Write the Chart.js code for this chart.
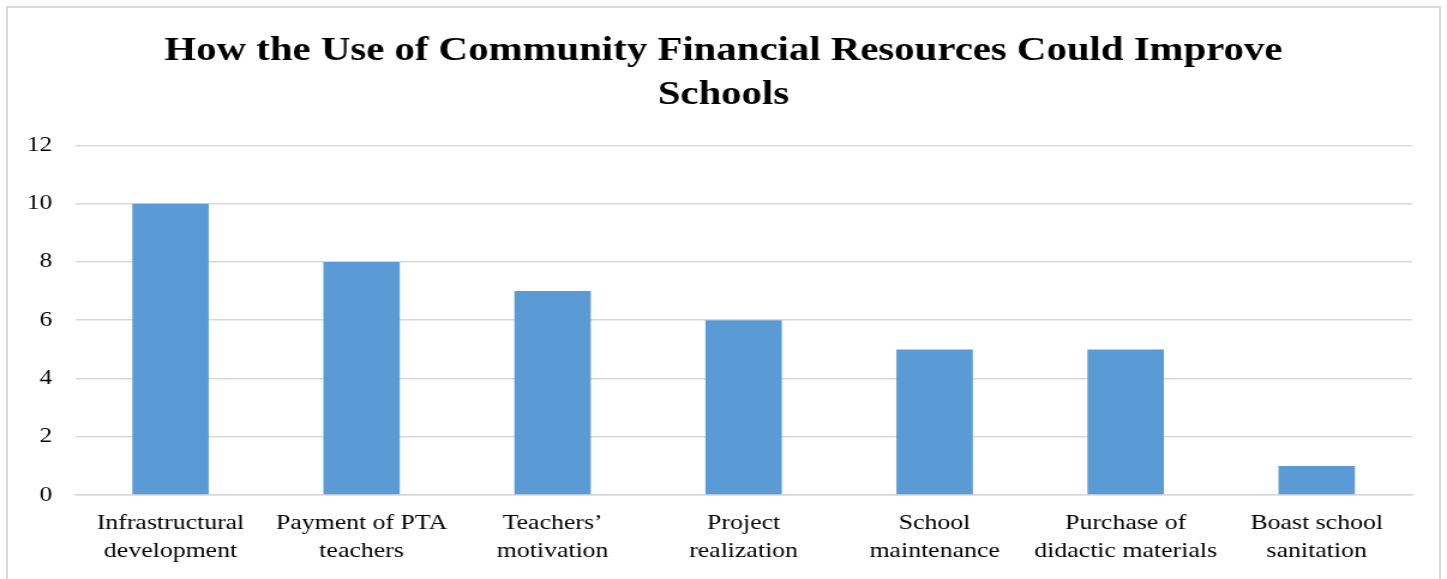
<!DOCTYPE html>
<html>
<head>
<meta charset="utf-8">
<script src="https://cdn.jsdelivr.net/npm/chart.js@4.4.0/dist/chart.umd.min.js"></script>
<style>
  html, body { margin: 0; padding: 0; background: #ffffff; overflow: hidden; }
  #frame { position: absolute; left: 6px; top: 6px; width: 1431px; height: 600px; border: 2px solid #d9d9d9; }
  /* the chart is drawn on a narrower canvas and widened, giving the wide-set serif lettering */
  #wrap { position: absolute; left: 0; top: 0; width: 1206px; height: 579px;
          transform: scaleX(1.19983); transform-origin: 0 0; }
</style>
</head>
<body>
<div id="frame"></div>
<div id="wrap"><canvas id="chart" width="1206" height="579"></canvas></div>
<script>
const categories = [
  ['Infrastructural', 'development'],
  ['Payment of PTA', 'teachers'],
  ['Teachers\u2019', 'motivation'],
  ['Project', 'realization'],
  ['School', 'maintenance'],
  ['Purchase of', 'didactic materials'],
  ['Boast school', 'sanitation']
];
const responses = [10, 8, 7, 6, 5, 5, 1];
const titleLines = ['How the Use of Community Financial Resources Could Improve', 'Schools'];

const serif = "'Liberation Serif', 'Times New Roman', serif";

new Chart(document.getElementById('chart'), {
  type: 'bar',
  data: {
    labels: categories,
    datasets: [{
      data: responses,
      backgroundColor: '#5b9bd5',
      borderWidth: 0,
      categoryPercentage: 1.0,
      barPercentage: 0.4
    }]
  },
  options: {
    responsive: false,
    animation: false,
    layout: { padding: { left: 0, right: 0, top: 19, bottom: 0 } },
    plugins: {
      legend: { display: false },
      tooltip: { enabled: false },
      title: {
        display: true,
        text: titleLines,
        color: '#000000',
        font: { family: serif, size: 34, weight: 'bold', lineHeight: 1.27 },
        padding: { top: 11, bottom: 29 }
      }
    },
    scales: {
      x: {
        grid: { display: false, drawTicks: false },
        border: { display: true, color: '#d9d9d9', width: 1.5 },
        ticks: {
          color: '#000000',
          font: { family: serif, size: 21.5, lineHeight: 1.3 },
          maxRotation: 0,
          autoSkip: false,
          padding: 14
        }
      },
      y: {
        min: 0,
        max: 12,
        afterFit: (s) => { s.width = 62.5; },
        grid: { color: '#d9d9d9', lineWidth: 1.5, drawTicks: false },
        border: { display: false },
        ticks: {
          stepSize: 2,
          color: '#000000',
          font: { family: serif, size: 21 },
          padding: 19
        }
      },
      // empty margin on the right of the plot
      yRight: {
        position: 'right',
        min: 0,
        max: 12,
        afterFit: (s) => { s.width = 29; },
        grid: { display: false, drawTicks: false },
        border: { display: false },
        ticks: { display: false }
      }
    }
  }
});
</script>
</body>
</html>
